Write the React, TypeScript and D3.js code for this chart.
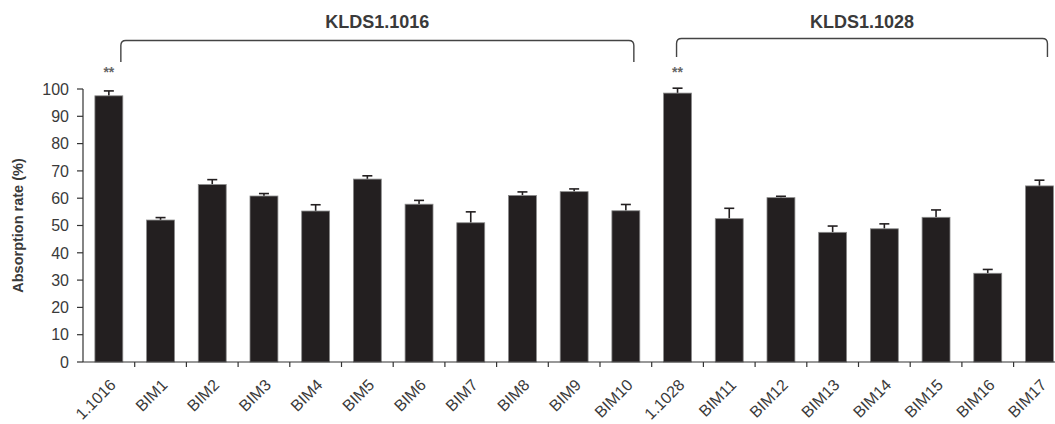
import React from 'react';
import * as d3 from 'd3';

const categories = ['1.1016', 'BIM1', 'BIM2', 'BIM3', 'BIM4', 'BIM5', 'BIM6', 'BIM7', 'BIM8', 'BIM9', 'BIM10',
  '1.1028', 'BIM11', 'BIM12', 'BIM13', 'BIM14', 'BIM15', 'BIM16', 'BIM17'];
const values = [97.5, 52, 65, 60.8, 55.3, 67, 57.8, 51, 61, 62.4, 55.4,
  98.5, 52.5, 60.2, 47.5, 48.8, 53, 32.5, 64.5];
const errors = [1.8, 0.9, 1.8, 0.9, 2.3, 1.2, 1.4, 4.0, 1.3, 1.0, 2.3,
  1.8, 3.8, 0.5, 2.3, 1.8, 2.7, 1.4, 2.1];
const starred = ['1.1016', '1.1028'];
const yTicks = [0, 10, 20, 30, 40, 50, 60, 70, 80, 90, 100];
const groupLabels = ['KLDS1.1016', 'KLDS1.1028'];
const groupFrom = ['1.1016', '1.1028'];
const groupTo = ['BIM10', 'BIM17'];

const W = 1055;
const H = 424;
const FONT = '"Liberation Sans", Arial, sans-serif';
const TXT = '#3a3a3a';

const App = () => {
  const left = 83;
  const step = 51.7;
  const x = d3.scaleBand<string>()
    .domain(categories)
    .range([left, left + step * categories.length])
    .paddingInner(0.46)
    .paddingOuter(0.23);
  const y = d3.scaleLinear().domain([0, 100]).range([362, 89]);
  const bw = x.bandwidth();
  const cx = (c: string) => (x(c) as number) + bw / 2;
  const y0 = y(0);

  // bracket geometry per group
  const brackets = groupLabels.map((label, i) => {
    const x1 = i === 0 ? cx(groupFrom[i]) + 12 : cx(groupFrom[i]) - 1;
    const x2 = cx(groupTo[i]) + 8;
    const top = i === 0 ? 40.5 : 38.5;
    const bottom = i === 0 ? 62 : 57;
    const r = 5;
    const d = `M${x1},${bottom} L${x1},${top + r} Q${x1},${top} ${x1 + r},${top} L${x2 - r},${top} Q${x2},${top} ${x2},${top + r} L${x2},${bottom}`;
    return { label, d, mid: (x1 + x2) / 2 };
  });

  return (
    <svg width={W} height={H} style={{ position: 'absolute', left: 0, top: 0, background: '#fff' }}
      fontFamily={FONT}>
      {/* group brackets */}
      {brackets.map((b) => (
        <g key={b.label}>
          <path d={b.d} fill="none" stroke="#444" strokeWidth={1.4} />
          <text x={b.mid} y={28} textAnchor="middle" fontSize={18} fontWeight="bold" fill={TXT}>{b.label}</text>
        </g>
      ))}

      {/* bars */}
      {categories.map((c, i) => (
        <g key={c}>
          <line x1={cx(c)} x2={cx(c)} y1={y(values[i])} y2={y(values[i] + errors[i])} stroke="#231f20" strokeWidth={1.6} />
          <line x1={cx(c) - 5} x2={cx(c) + 5} y1={y(values[i] + errors[i])} y2={y(values[i] + errors[i])} stroke="#231f20" strokeWidth={1.6} />
          <rect x={x(c)} y={y(values[i])} width={bw} height={y0 - y(values[i])}
            fill="#231f20" stroke="#8a8a8a" strokeWidth={0.8} />
          {starred.includes(c) && (
            <text x={cx(c)} y={77} textAnchor="middle" fontSize={14} fontWeight="bold" fill="#666">**</text>
          )}
        </g>
      ))}

      {/* y axis */}
      <line x1={left} x2={left} y1={y0} y2={y(100)} stroke="#333" strokeWidth={1.2} />
      {yTicks.map((t) => (
        <g key={t}>
          <line x1={left - 6} x2={left} y1={y(t)} y2={y(t)} stroke="#333" strokeWidth={1.2} />
          <text x={left - 14} y={y(t)} dy="0.36em" textAnchor="end" fontSize={16} fill={TXT}>{t}</text>
        </g>
      ))}
      <text transform={`translate(23,${(y0 + y(100)) / 2}) rotate(-90)`} textAnchor="middle"
        fontSize={14.5} fontWeight="bold" fill={TXT}>Absorption rate (%)</text>

      {/* x axis */}
      <line x1={left} x2={left + step * categories.length} y1={y0} y2={y0} stroke="#333" strokeWidth={1.2} />
      {categories.map((c, i) => (
        <line key={'t' + c} x1={left + step * (i + 1)} x2={left + step * (i + 1)} y1={y0} y2={y0 + 5}
          stroke="#333" strokeWidth={1.2} />
      ))}
      {categories.map((c) => (
        <text key={'l' + c} transform={`translate(${cx(c) + 8},${y0 + 24}) rotate(-45)`} textAnchor="end"
          fontSize={16} fill={TXT}>{c}</text>
      ))}
    </svg>
  );
};

export default App;
